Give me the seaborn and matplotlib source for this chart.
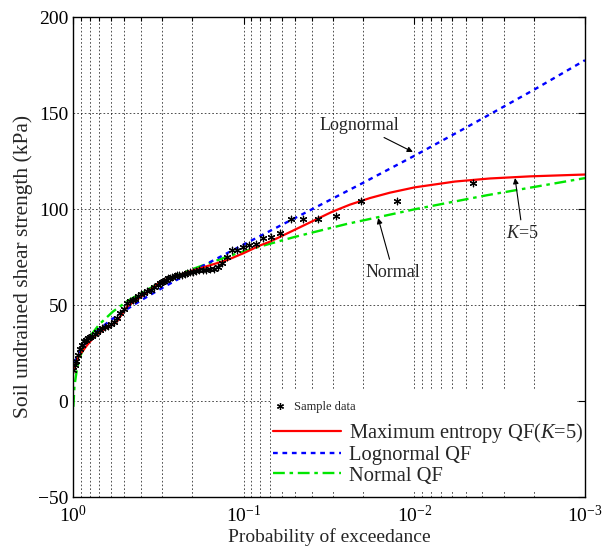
import matplotlib
matplotlib.use("Agg")
import numpy as np
import pandas as pd
import matplotlib.pyplot as plt
import seaborn as sns
from matplotlib.lines import Line2D
from matplotlib.patches import Rectangle
from matplotlib.ticker import FixedLocator, NullFormatter, FixedFormatter

# ---------------- data ----------------
sample_p = [0.00451, 0.01257, 0.02063, 0.02868, 0.03674, 0.04480, 0.05285, 0.06091,
            0.06897, 0.07702, 0.08508, 0.09314, 0.1012, 0.1093, 0.1173, 0.1254,
            0.1334, 0.1415, 0.1495, 0.1576, 0.1656, 0.1737, 0.1817, 0.1898,
            0.1979, 0.2059, 0.2140, 0.2220, 0.2301, 0.2381, 0.2462, 0.2542,
            0.2623, 0.2704, 0.2784, 0.2865, 0.2945, 0.3026, 0.3106, 0.3187,
            0.3348, 0.3509, 0.3670, 0.3832, 0.3993, 0.4154, 0.4315, 0.4476,
            0.4638, 0.4799, 0.5040, 0.5282, 0.5524, 0.5766, 0.6007, 0.6249,
            0.6491, 0.6733, 0.6974, 0.7216, 0.7458, 0.7700, 0.7941, 0.8183,
            0.8425, 0.8666, 0.8908, 0.9150, 0.9392, 0.9633, 0.9794, 0.9955]
sample_v = [113.5, 104.2, 104.0, 96.4, 94.8, 94.8, 94.8, 87.5,
            85.4, 85.0, 82.0, 81.0, 80.0, 78.6, 78.6, 75.0,
            72.0, 70.0, 68.5, 68.5, 68.0, 68.0, 68.0, 67.5,
            67.0, 67.0, 66.7, 66.0, 65.6, 65.6, 65.6, 65.0,
            64.6, 64.0, 64.0, 63.0, 62.5, 62.0, 61.5, 60.5,
            59.5, 58.0, 57.5, 56.5, 55.5, 54.5, 53.0, 52.5,
            52.0, 51.0, 48.0, 46.0, 43.0, 41.0, 40.0, 39.0,
            38.5, 38.0, 37.0, 36.0, 35.0, 34.0, 33.5, 33.0,
            32.0, 31.0, 29.0, 27.0, 24.0, 21.0, 19.0, 16.0]

me_p = [0.995, 0.973, 0.93, 0.828, 0.75, 0.667, 0.60, 0.552, 0.483, 0.43, 0.389,
        0.34, 0.309, 0.27, 0.23, 0.198, 0.16, 0.125, 0.10, 0.0803, 0.0701, 0.0535,
        0.0409, 0.0304, 0.0238, 0.0182, 0.0139, 0.00991,
        0.00578, 0.00361, 0.00210, 0.00097]
me_v = [15.0, 17.7, 23.0, 29.0, 33.5, 37.0, 39.5, 41.5, 49.0, 52.5, 55.0,
        59.0, 62.0, 64.0, 66.0, 68.0, 70.5, 73.4, 77.0, 81.0, 83.0, 88.0,
        93.0, 98.5, 102.3, 105.7, 108.5, 111.3,
        114.3, 115.9, 117.0, 118.0]

logn_p = [0.995, 0.973, 0.9, 0.828, 0.7, 0.6, 0.5, 0.4, 0.3, 0.2, 0.1,
          0.05, 0.02, 0.01, 0.005, 0.002, 0.001]
logn_v = [15.5, 20.5, 27.1, 31.0, 37.5, 42.2, 47.0, 52.4, 58.9, 67.5, 81.5,
          95.3, 113.6, 127.7, 142.3, 162.0, 177.5]

norm_p = [0.995, 0.98, 0.947, 0.9, 0.795, 0.7, 0.583, 0.483, 0.368, 0.27, 0.198,
          0.12, 0.08, 0.05, 0.0249, 0.0099, 0.00374, 0.001]
norm_v = [-3.0, 7.9, 17.0, 24.1, 33.7, 40.0, 46.6, 51.9, 58.0, 63.9, 68.8,
          75.7, 80.5, 85.5, 92.2, 99.9, 107.2, 116.1]

labels = ["Sample data", "Maximum entropy QF($\\it{K}$=5)", "Lognormal QF", "Normal QF"]

# ---------------- style ----------------
sns.set_theme(style="white")
plt.rcParams['font.family'] = ['Liberation Serif', 'DejaVu Serif']
plt.rcParams['mathtext.fontset'] = 'custom'
plt.rcParams['mathtext.rm'] = 'Liberation Serif'
plt.rcParams['mathtext.it'] = 'Liberation Serif:italic'
plt.rcParams['axes.unicode_minus'] = True

fig = plt.figure(figsize=(6.04, 5.54), dpi=100)
ax = fig.add_axes([73/604, 1-497/554, 512/604, 480/554])
ax.set_xscale('log')

samp = pd.DataFrame({"p": sample_p, "v": sample_v})
me = pd.DataFrame({"p": me_p, "v": me_v})
lg = pd.DataFrame({"p": logn_p, "v": logn_v})
nm = pd.DataFrame({"p": norm_p, "v": norm_v})

GREEN, BLUE, RED = "#00e600", "#0000ff", "#ff0000"
sns.lineplot(data=nm, x="p", y="v", ax=ax, sort=False, estimator=None,
             color=GREEN, lw=1.7, linestyle=(0, (5, 2, 1.5, 2)))
sns.lineplot(data=lg, x="p", y="v", ax=ax, sort=False, estimator=None,
             color=BLUE, lw=1.7, linestyle=(0, (2, 2)))
sns.lineplot(data=me, x="p", y="v", ax=ax, sort=False, estimator=None,
             color=RED, lw=1.6)
sns.scatterplot(data=samp, x="p", y="v", ax=ax, marker=(6, 2, 0), s=22,
                color="black", edgecolor="black", linewidth=0.9, zorder=3)

ax.set_xlim(1, 1e-3)
ax.set_ylim(-50, 200)

major = [1, 0.1, 0.01, 0.001]
minor = [m * d for d in [0.1, 0.01, 0.001] for m in range(2, 10)]
ax.xaxis.set_major_locator(FixedLocator(major))
ax.xaxis.set_major_formatter(FixedFormatter(["$10^{0}$", "$10^{-1}$", "$10^{-2}$", "$10^{-3}$"]))
ax.xaxis.set_minor_locator(FixedLocator(minor))
ax.xaxis.set_minor_formatter(NullFormatter())
ax.set_yticks([-50, 0, 50, 100, 150, 200])
ax.set_yticklabels(["\u221250", "0", "50", "100", "150", "200"])

gkw = dict(color="black", lw=0.6, linestyle=(0, (2, 2.5)), alpha=0.8)
ax.grid(True, which="both", axis="x", **gkw)
ax.grid(True, which="major", axis="y", **gkw)

ax.tick_params(which="both", direction="in", top=True, right=True,
               labelsize=14, colors="black", width=0.8)
ax.tick_params(which="major", length=5)
ax.tick_params(which="minor", length=3)
ax.tick_params(axis="x", pad=6)
for s in ax.spines.values():
    s.set_color("black")
    s.set_linewidth(1.0)

ax.set_xlabel("Probability of exceedance", fontsize=14, labelpad=1)
ax.set_ylabel("Soil undrained shear strength (kPa)", fontsize=15.5)
ax.yaxis.set_label_coords(-0.078, 0.48)

# annotations
arr = dict(arrowstyle="-|>", color="black", lw=0.8, mutation_scale=8,
           shrinkA=1, shrinkB=0)
ax.annotate("Lognormal", xy=(0.0102, 129.7), xytext=(0.021, 143.7),
            fontsize=13, ha="center", va="center", arrowprops=arr)
ax.annotate("Normal", xy=(0.0163, 95.3), xytext=(0.0133, 67.0),
            fontsize=13, ha="center", va="center", arrowprops=arr)
ax.annotate("$\\it{K}$=5", xy=(0.00257, 116.1), xytext=(0.00232, 87.5),
            fontsize=13, ha="center", va="center", arrowprops=arr)

# white legend background
ax.add_patch(Rectangle((0.387, 0.012), 0.598, 0.21, transform=ax.transAxes,
                       facecolor="white", edgecolor="none", zorder=2.6))

h0 = Line2D([], [], marker=(6, 2, 0), ls="none", color="black", markersize=5, markeredgewidth=0.9)
legA = ax.legend([h0], [labels[0]], loc="center left", bbox_to_anchor=(0.393, 0.1875),
                 frameon=False, fontsize=9, handlelength=1.0, handletextpad=0.6,
                 borderpad=0, borderaxespad=0)
ax.add_artist(legA)
h1 = Line2D([], [], color=RED, lw=1.6)
h2 = Line2D([], [], color=BLUE, lw=1.7, linestyle=(0, (2, 2)))
h3 = Line2D([], [], color=GREEN, lw=1.7, linestyle=(0, (5, 2, 1.5, 2)))
legB = ax.legend([h1, h2, h3], labels[1:], loc="center left", bbox_to_anchor=(0.391, 0.091),
                 frameon=False, fontsize=14.8, handlelength=3.3, handletextpad=0.4,
                 labelspacing=0.04, borderpad=0, borderaxespad=0)
for leg in (legA, legB):
    leg.set_zorder(5)

fig.savefig("out.png", dpi=100)
